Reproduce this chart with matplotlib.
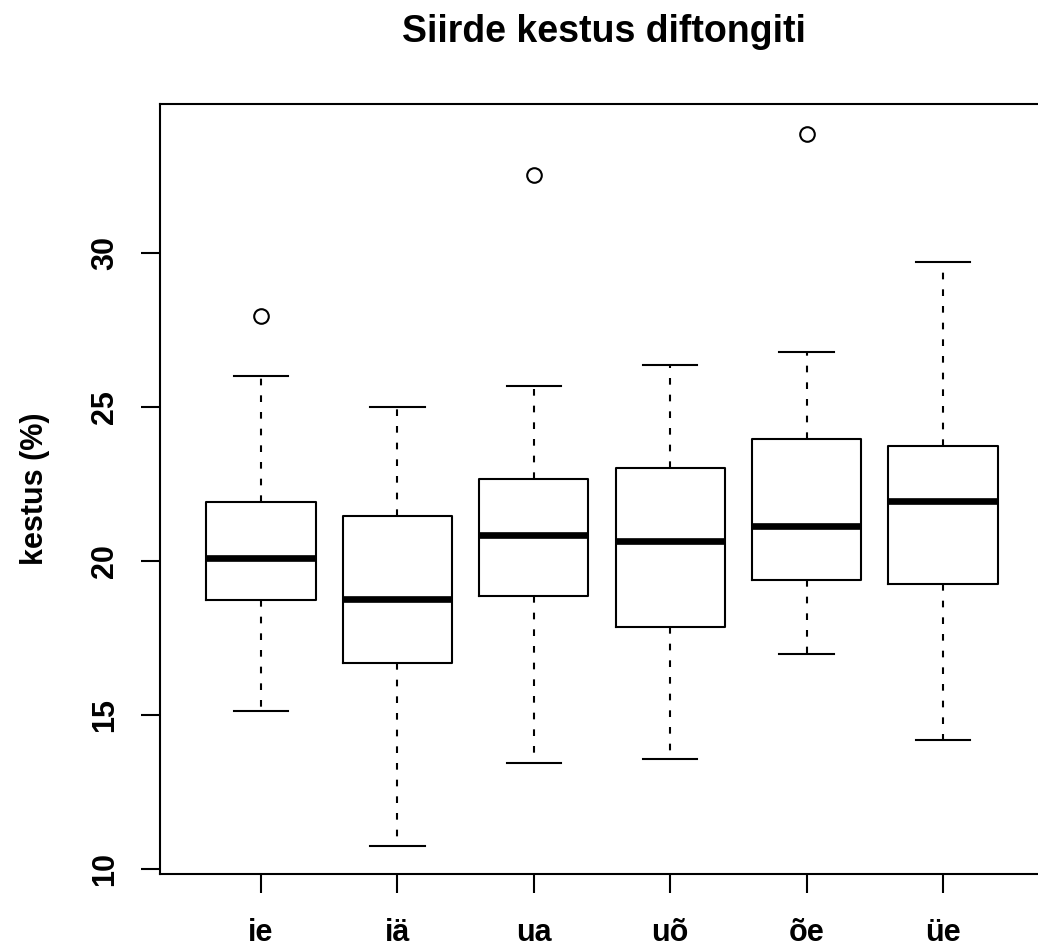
import matplotlib
matplotlib.use("Agg")
import matplotlib.pyplot as plt

categories = ["ie", "iä", "ua", "uõ", "õe", "üe"]
whisker_low = [15.13, 10.75, 13.42, 13.58, 16.97, 14.18]
q1 = [18.74, 16.69, 18.87, 17.85, 19.37, 19.23]
median = [20.10, 18.77, 20.84, 20.65, 21.14, 21.94]
q3 = [21.90, 21.45, 22.67, 23.00, 23.94, 23.72]
whisker_high = [26.00, 25.00, 25.68, 26.36, 26.79, 29.71]
outliers = [[27.94], [], [32.51], [], [33.85], []]

title = "Siirde kestus diftongiti"
ylabel = "kestus (%)"
yticks = [10, 15, 20, 25, 30]

plt.rcParams['font.family'] = ['Liberation Sans', 'DejaVu Sans']
plt.rcParams['font.weight'] = 'bold'
plt.rcParams['lines.scale_dashes'] = False

W, H = 1038, 951
fig = plt.figure(figsize=(W / 100, H / 100), dpi=100)
left, right, top, bottom = 160, 1044, 104, 874
ax = fig.add_axes([left / W, (H - bottom) / H, (right - left) / W, (bottom - top) / H])

stats = []
for i, c in enumerate(categories):
    stats.append(dict(label=c, whislo=whisker_low[i], q1=q1[i], med=median[i],
                      q3=q3[i], whishi=whisker_high[i], fliers=outliers[i]))

lw = 1.5
ax.bxp(stats, positions=range(1, len(categories) + 1), widths=0.8, capwidths=0.4,
       showfliers=True,
       boxprops=dict(color='black', linewidth=lw),
       medianprops=dict(color='black', linewidth=4.8, solid_capstyle='butt'),
       whiskerprops=dict(color='black', linewidth=lw, linestyle=(0, (4.8, 7.2))),
       capprops=dict(color='black', linewidth=lw),
       flierprops=dict(marker='o', markersize=10.5, markerfacecolor='none',
                       markeredgecolor='black', markeredgewidth=lw))

ax.set_xlim(0.26, 6.74)
ax.set_ylim(9.83, 34.83)
ax.set_yticks(yticks)
ax.set_yticklabels([str(v) for v in yticks], rotation=90, va='center', fontsize=22, fontweight='bold')
ax.set_xticks(range(1, len(categories) + 1))
ax.set_xticklabels(categories, fontsize=22, fontweight='bold')
ax.tick_params(axis='both', length=13.7, width=lw, color='black', direction='out')
ax.tick_params(axis='x', pad=18)
ax.tick_params(axis='y', pad=15)
for s in ax.spines.values():
    s.set_linewidth(lw)

ax.set_ylabel(ylabel, fontsize=22, fontweight='bold', va='center')
ax.yaxis.set_label_coords((35 - left) / (right - left), 0.5)

fig.text(604 / W, (H - 32) / H, title, ha='center', va='center', fontsize=27, fontweight='bold')

fig.savefig("out.png", dpi=100)
